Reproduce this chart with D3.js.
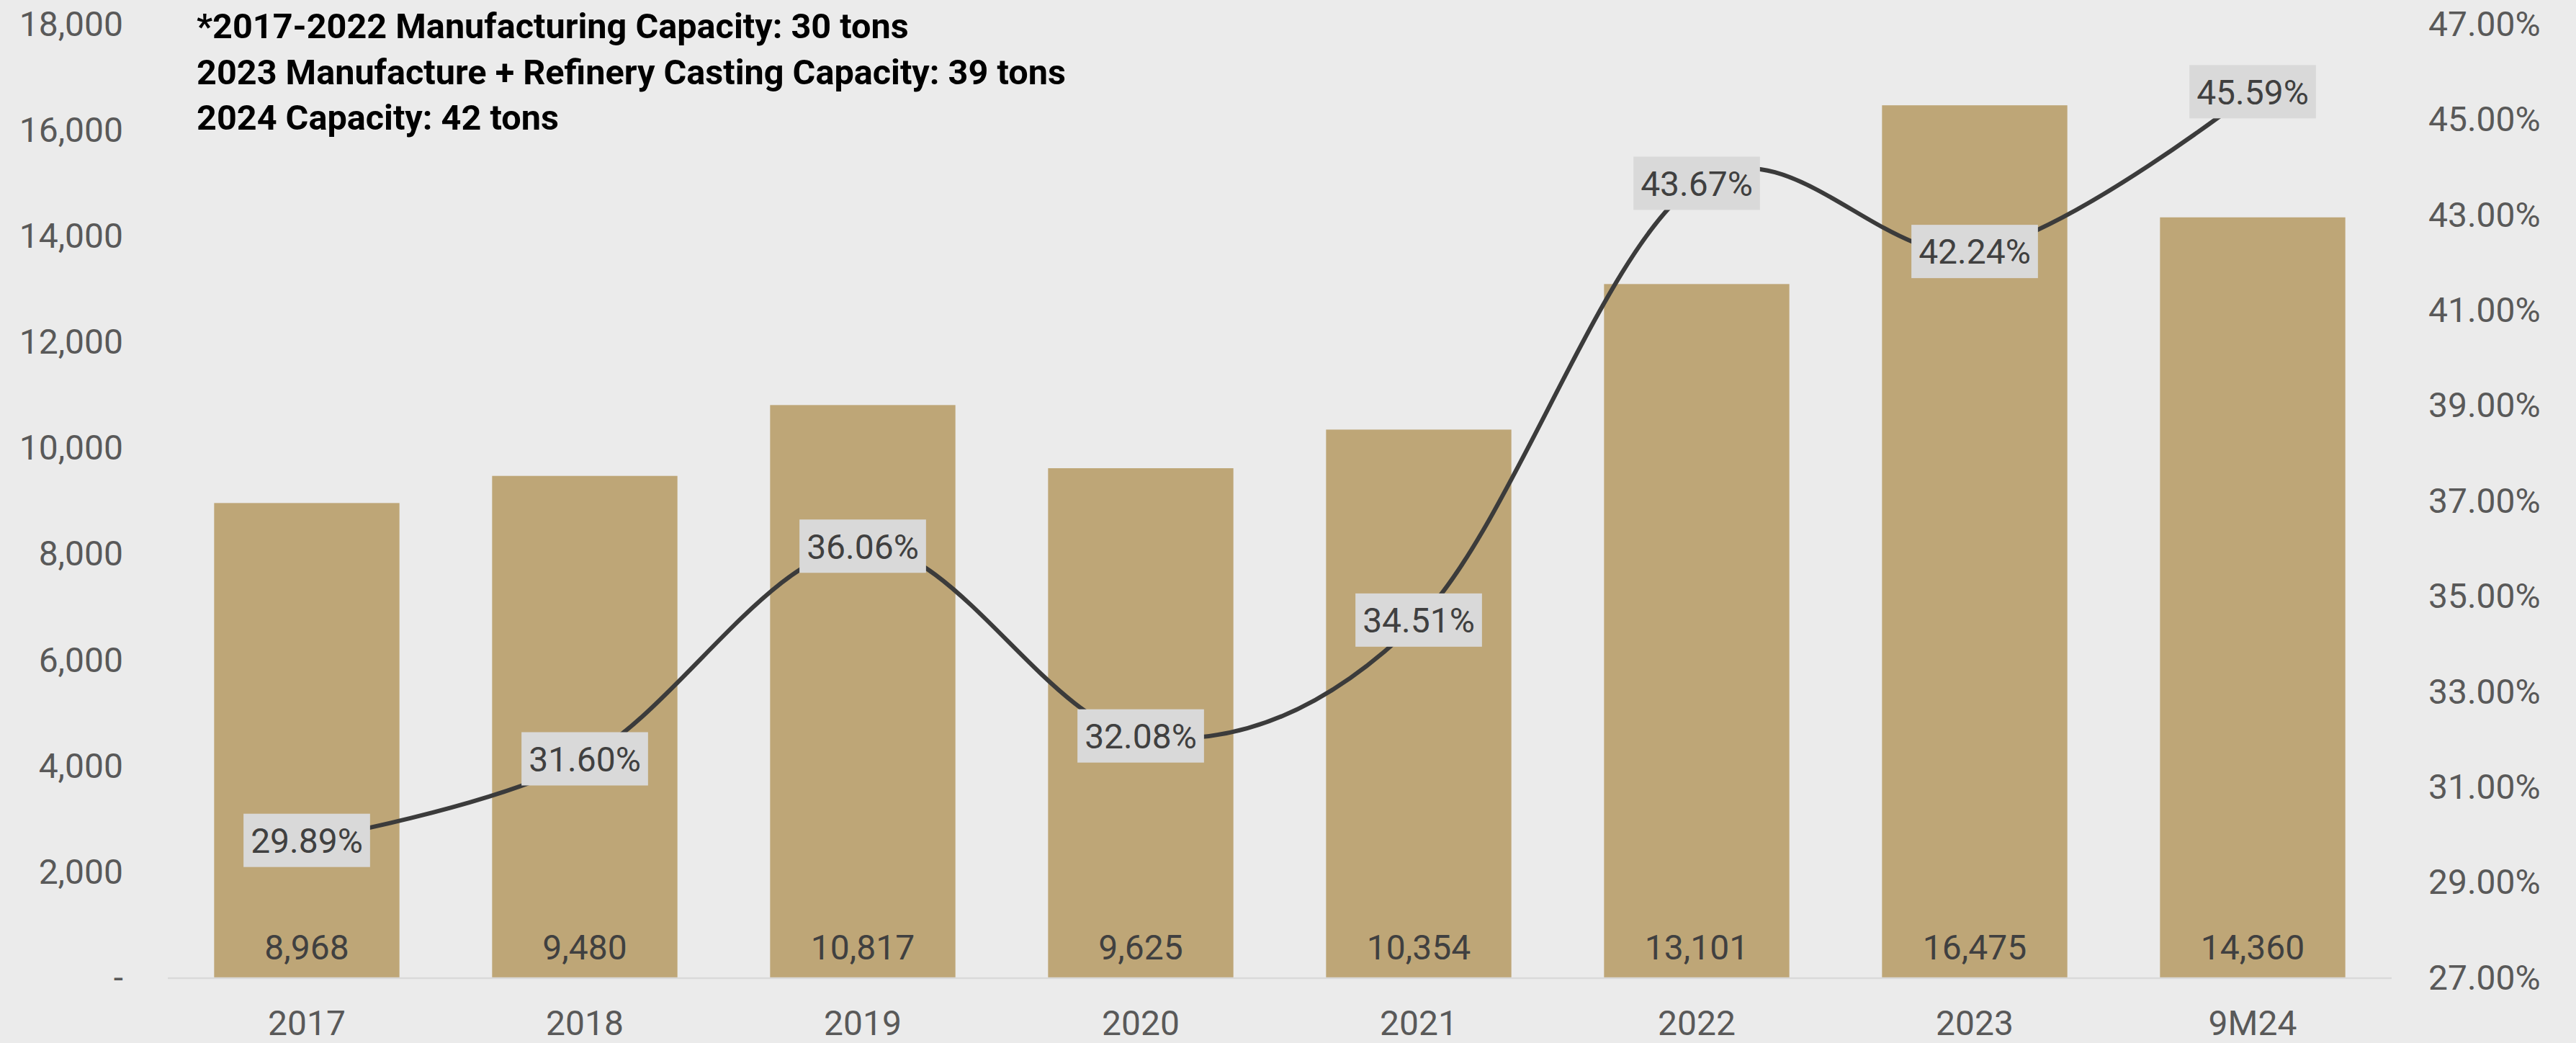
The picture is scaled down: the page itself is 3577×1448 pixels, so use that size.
<!DOCTYPE html>
<html>
<head>
<meta charset="utf-8">
<script src="https://cdn.jsdelivr.net/npm/d3@7"></script>
<style>
	body { margin: 0; background: #ebebeb; }
	svg { display: block; font-family: Roboto, "Noto Sans", sans-serif; }
</style>
</head>
<body>
<div id="chart"></div>
<script>
// data
const categories = ["2017", "2018", "2019", "2020", "2021", "2022", "2023", "9M24"];
const volumes = [8968, 9480, 10817, 9625, 10354, 13101, 16475, 14360];
const margins = [0.2989, 0.316, 0.3606, 0.3208, 0.3451, 0.4367, 0.4224, 0.4559];
const leftTicks = [0, 2000, 4000, 6000, 8000, 10000, 12000, 14000, 16000, 18000];
const rightTicks = [0.27, 0.29, 0.31, 0.33, 0.35, 0.37, 0.39, 0.41, 0.43, 0.45, 0.47];
const notes = [
	"*2017-2022 Manufacturing Capacity: 30 tons",
	"2023 Manufacture + Refinery Casting Capacity: 39 tons",
	"2024 Capacity: 42 tons",
];

// dimensions
const width = 3577;
const height = 1448;
const plot = { left: 233, right: 3321, top: 34, bottom: 1358 };

const svg = d3
	.select("#chart")
	.append("svg")
	.attr("width", width)
	.attr("height", height);

svg.append("rect")
	.attr("width", width)
	.attr("height", height)
	.attr("fill", "#ebebeb");

// scales
const xScale = d3
	.scaleBand()
	.domain(categories)
	.range([plot.left, plot.right])
	.paddingInner(1 / 3)
	.paddingOuter(1 / 6);

const yLeft = d3.scaleLinear().domain([0, 18000]).range([plot.bottom, plot.top]);
const yRight = d3.scaleLinear().domain([0.27, 0.47]).range([plot.bottom, plot.top]);

// bars
svg.selectAll(".bar")
	.data(volumes)
	.enter()
	.append("rect")
	.attr("class", "bar")
	.attr("x", (d, i) => xScale(categories[i]))
	.attr("y", (d) => yLeft(d))
	.attr("width", xScale.bandwidth())
	.attr("height", (d) => yLeft(0) - yLeft(d))
	.attr("fill", "#bea677");

// baseline
svg.append("line")
	.attr("x1", plot.left)
	.attr("x2", plot.right)
	.attr("y1", yLeft(0))
	.attr("y2", yLeft(0))
	.attr("stroke", "#d9d9d9")
	.attr("stroke-width", 2.5);

// bar value labels
svg.selectAll(".bar-label")
	.data(volumes)
	.enter()
	.append("text")
	.attr("class", "bar-label")
	.attr("x", (d, i) => xScale(categories[i]) + xScale.bandwidth() / 2)
	.attr("y", yLeft(0) - 26)
	.attr("text-anchor", "middle")
	.attr("font-size", 48)
	.attr("fill", "#404040")
	.text((d) => d3.format(",")(d));

// axes
const leftAxis = d3
	.axisLeft(yLeft)
	.tickValues(leftTicks)
	.tickSize(0)
	.tickPadding(0)
	.tickFormat((d) => (d === 0 ? "-" : d3.format(",")(d)));
svg.append("g")
	.attr("transform", "translate(171, 0)")
	.call(leftAxis)
	.call((g) => g.select(".domain").remove());

const rightAxis = d3
	.axisRight(yRight)
	.tickValues(rightTicks)
	.tickSize(0)
	.tickPadding(0)
	.tickFormat(d3.format(".2%"));
svg.append("g")
	.attr("transform", "translate(3372, 0)")
	.call(rightAxis)
	.call((g) => g.select(".domain").remove());

const bottomAxis = d3.axisBottom(xScale).tickSize(0).tickPadding(45);
svg.append("g")
	.attr("transform", `translate(0, ${plot.bottom})`)
	.call(bottomAxis)
	.call((g) => g.select(".domain").remove());

svg.selectAll(".tick text")
	.attr("font-size", 48)
	.attr("font-family", "Roboto, 'Noto Sans', sans-serif")
	.attr("fill", "#595959");

// smoothed margin line
const points = margins.map((m, i) => [
	xScale(categories[i]) + xScale.bandwidth() / 2,
	yRight(m),
]);
const line = d3.line().curve(d3.curveCardinal.tension(0));
svg.append("path")
	.attr("d", line(points))
	.attr("fill", "none")
	.attr("stroke", "#3b3b3b")
	.attr("stroke-width", 6);

// margin labels with boxes
const labels = svg
	.selectAll(".pct-label")
	.data(margins)
	.enter()
	.append("g")
	.attr("class", "pct-label")
	.attr("transform", (d, i) => `translate(${points[i][0]}, ${points[i][1]})`);

labels.append("rect").attr("fill", "#d9d9d9");
labels.append("text")
	.attr("text-anchor", "middle")
	.attr("dy", "0.36em")
	.attr("font-size", 48)
	.attr("fill", "#404040")
	.text((d) => d3.format(".2%")(d));

labels.each(function () {
	const g = d3.select(this);
	const w = g.select("text").node().getComputedTextLength() + 20;
	g.select("rect")
		.attr("x", -w / 2)
		.attr("y", -37)
		.attr("width", w)
		.attr("height", 74);
});

// capacity notes
svg.selectAll(".note")
	.data(notes)
	.enter()
	.append("text")
	.attr("class", "note")
	.attr("x", 273)
	.attr("y", (d, i) => 53 + i * 63.5)
	.attr("font-size", 48.6)
	.attr("font-weight", "bold")
	.attr("fill", "#000")
	.text((d) => d);
</script>
</body>
</html>
